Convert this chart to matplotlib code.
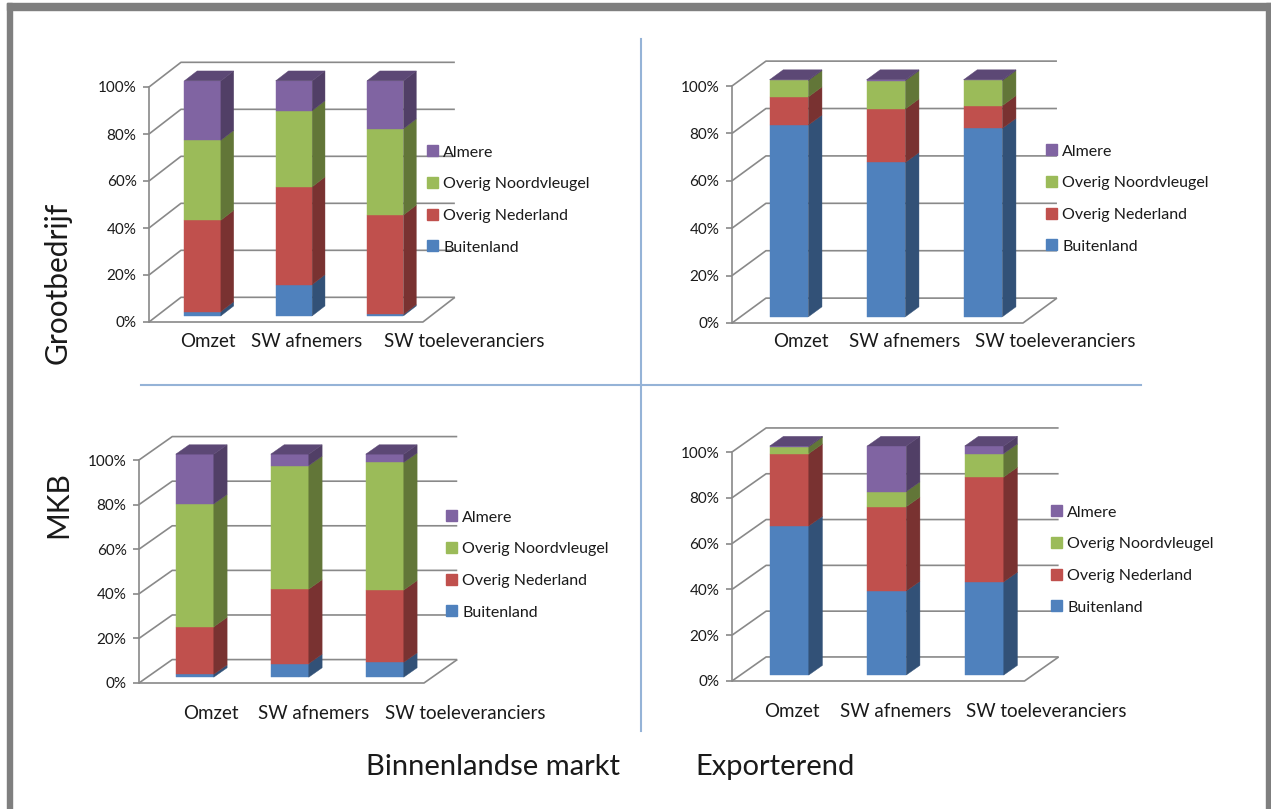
"""
Bedrijven rond Almere: herkomst omzet en SW-relaties
Vier 3D-achtige gestapelde 100%-staafdiagrammen (Excel-stijl).
"""

import numpy as np
import matplotlib
matplotlib.use("Agg")
import matplotlib.pyplot as plt
from matplotlib.patches import Patch, Rectangle
from matplotlib.lines import Line2D
from matplotlib.colors import to_rgb

plt.rcParams["font.family"] = ["Lato", "DejaVu Sans"]

# ── Data ─────────────────────────────────────────────────────────────────────
CATEGORIES = ["Omzet", "SW afnemers", "SW toeleveranciers"]
SERIES = ["Buitenland", "Overig Nederland", "Overig Noordvleugel", "Almere"]
COLORS = ["#4F81BD", "#C0504D", "#9BBB59", "#8064A2"]
Y_TICKS = [0, 20, 40, 60, 80, 100]

# Grootbedrijf - Binnenlandse markt
GB_BIN_BUITENLAND = [1.8, 13.3, 0.6]
GB_BIN_NEDERLAND = [38.9, 41.6, 42.3]
GB_BIN_NOORDVLEUGEL = [34.0, 32.4, 36.7]
GB_BIN_ALMERE = [25.3, 12.7, 20.4]

# Grootbedrijf - Exporterend
GB_EXP_BUITENLAND = [80.9, 65.1, 79.5]
GB_EXP_NEDERLAND = [11.9, 22.6, 9.6]
GB_EXP_NOORDVLEUGEL = [6.9, 11.9, 10.6]
GB_EXP_ALMERE = [0.3, 0.4, 0.3]

# MKB - Binnenlandse markt
MKB_BIN_BUITENLAND = [1.3, 6.1, 6.7]
MKB_BIN_NEDERLAND = [21.3, 33.4, 32.4]
MKB_BIN_NOORDVLEUGEL = [55.1, 55.4, 57.2]
MKB_BIN_ALMERE = [22.3, 5.1, 3.7]

# MKB - Exporterend
MKB_EXP_BUITENLAND = [65.1, 36.7, 40.7]
MKB_EXP_NEDERLAND = [31.6, 36.8, 45.8]
MKB_EXP_NOORDVLEUGEL = [3.0, 6.6, 10.2]
MKB_EXP_ALMERE = [0.3, 19.9, 3.3]

# ── Style / geometry ─────────────────────────────────────────────────────────
W, H = 1271, 809
GRID = "#898989"
DIVIDER = "#95B3D7"
TEXT = "#1a1a1a"
DEPTH_X, DEPTH_Y = 0.35, 10.5      # wall depth in data units
Z_FRONT, BAR_DEPTH = 0.25, 0.40    # bar placement inside the depth
BAR_W = 0.40

# panel: left-front x px, px per category, 0% y px, px per percent,
#        legend x px, legend centre y px, label pad (pt), label positions
PANELS = [
    dict(vals=[GB_BIN_BUITENLAND, GB_BIN_NEDERLAND, GB_BIN_NOORDVLEUGEL, GB_BIN_ALMERE],
         x0=149, u=91.3, y0=322, s=2.35, lx=427, ly=200, pad=8,
         lpos=[0.15, 1.23, 2.95]),
    dict(vals=[GB_EXP_BUITENLAND, GB_EXP_NEDERLAND, GB_EXP_NOORDVLEUGEL, GB_EXP_ALMERE],
         x0=732, u=97.0, y0=323, s=2.37, lx=1046, ly=199, pad=7,
         lpos=[0.21, 1.28, 2.83]),
    dict(vals=[MKB_BIN_BUITENLAND, MKB_BIN_NEDERLAND, MKB_BIN_NOORDVLEUGEL, MKB_BIN_ALMERE],
         x0=139, u=95.0, y0=683, s=2.23, lx=446, ly=565, pad=16,
         lpos=[0.26, 1.34, 2.93]),
    dict(vals=[MKB_EXP_BUITENLAND, MKB_EXP_NEDERLAND, MKB_EXP_NOORDVLEUGEL, MKB_EXP_ALMERE],
         x0=732, u=97.5, y0=681, s=2.29, lx=1051, ly=560, pad=16,
         lpos=[0.11, 1.18, 2.72]),
]


def shade(color, f):
    return tuple(c * f for c in to_rgb(color))


# ── One 3D-looking stacked panel ─────────────────────────────────────────────
def draw_panel(fig, p):
    ax = fig.add_axes([p["x0"] / W, 1 - p["y0"] / H,
                       3.5 * p["u"] / W, 112 * p["s"] / H])
    ax.set_xlim(-0.5, 3.0)
    ax.set_ylim(0, 112)
    ax.patch.set_visible(False)
    kx, ky = DEPTH_X, DEPTH_Y

    # walls + floor
    grid = dict(color=GRID, lw=1.2, zorder=1, solid_capstyle="butt", clip_on=False)
    for t in Y_TICKS:
        ax.plot([-0.5, -0.5 + kx, 2.5 + kx], [t, t + ky, t + ky], **grid)
    ax.plot([-0.5, 2.5, 2.5 + kx], [0, 0, ky], **grid)

    # stacked bars
    x = np.arange(len(CATEGORIES))
    xf = x + Z_FRONT * kx
    yoff = Z_FRONT * ky
    dx, dy = BAR_DEPTH * kx, BAR_DEPTH * ky
    bottom = np.zeros(len(x))
    for vals, c in zip(p["vals"], COLORS):
        vals = np.asarray(vals, dtype=float)
        ax.bar(xf, vals, BAR_W, bottom=bottom + yoff, color=c,
               edgecolor=c, lw=0.3, zorder=3)
        side = shade(c, 0.63)
        for xi, b, h in zip(xf, bottom, vals):
            xr = xi + BAR_W / 2
            ax.fill([xr, xr + dx, xr + dx, xr],
                    [b + yoff, b + yoff + dy, b + h + yoff + dy, b + h + yoff],
                    color=side, ec=side, lw=0.3, zorder=3)
        bottom = bottom + vals

    # top faces in the colour of the upper segment
    top_colors = [COLORS[max(j for j in range(len(SERIES)) if p["vals"][j][i] > 0)]
                  for i in range(len(x))]
    for xi, t, c in zip(xf, bottom, top_colors):
        xl, xr = xi - BAR_W / 2, xi + BAR_W / 2
        tc = shade(c, 0.72)
        ax.fill([xl, xr, xr + dx, xl + dx],
                [t + yoff, t + yoff, t + yoff + dy, t + yoff + dy],
                color=tc, ec=tc, lw=0.3, zorder=3)

    # axes
    for side_name in ["top", "right", "bottom"]:
        ax.spines[side_name].set_visible(False)
    ax.spines["left"].set_color(GRID)
    ax.spines["left"].set_linewidth(1.2)
    ax.spines["left"].set_bounds(0, 100)
    ax.set_yticks(Y_TICKS, [f"{t}%" for t in Y_TICKS])
    ax.tick_params(axis="y", length=4, width=1.2, color=GRID, pad=5,
                   labelsize=11, labelcolor=TEXT)
    ax.set_xticks(p["lpos"], CATEGORIES)
    ax.tick_params(axis="x", length=0, pad=p["pad"], labelsize=13.5,
                   labelcolor=TEXT)

    handles = [Patch(color=c) for c in COLORS][::-1]
    fig.legend(handles, SERIES[::-1], loc="center left",
               bbox_to_anchor=(p["lx"] / W, 1 - p["ly"] / H),
               frameon=False, fontsize=11.5, handlelength=0.68, handleheight=0.68,
               handletextpad=0.35, labelspacing=1.1, borderpad=0,
               borderaxespad=0, labelcolor=TEXT)
    return ax


# ── Figure ───────────────────────────────────────────────────────────────────
fig = plt.figure(figsize=(W / 100, H / 100), dpi=100)

# gray frame (left, top, right)
frame = "#7f7f7f"
fig.add_artist(Rectangle((7 / W, 0), 5 / W, 1 - 3 / H, transform=fig.transFigure, color=frame))
fig.add_artist(Rectangle((7 / W, 1 - 10 / H), 1 - 7 / W, 7 / H, transform=fig.transFigure, color=frame))
fig.add_artist(Rectangle((1266 / W, 0), 5 / W, 1 - 3 / H, transform=fig.transFigure, color=frame))

# quadrant dividers
fig.add_artist(Line2D([641 / W, 641 / W], [1 - 39 / H, 1 - 731 / H], color=DIVIDER, lw=1.5))
fig.add_artist(Line2D([141 / W, 1141 / W], [1 - 385 / H, 1 - 385 / H], color=DIVIDER, lw=1.5))

for p in PANELS:
    draw_panel(fig, p)

fig.text(58 / W, 1 - 283 / H, "Grootbedrijf", rotation=90, ha="center", va="center",
         fontsize=21.5, color=TEXT)
fig.text(58 / W, 1 - 505 / H, "MKB", rotation=90, ha="center", va="center",
         fontsize=21.5, color=TEXT)
fig.text(493 / W, 1 - 767 / H, "Binnenlandse markt", ha="center", va="center",
         fontsize=21, color=TEXT)
fig.text(775 / W, 1 - 767 / H, "Exporterend", ha="center", va="center",
         fontsize=21, color=TEXT)

fig.savefig("out.png", dpi=100)
plt.close(fig)
